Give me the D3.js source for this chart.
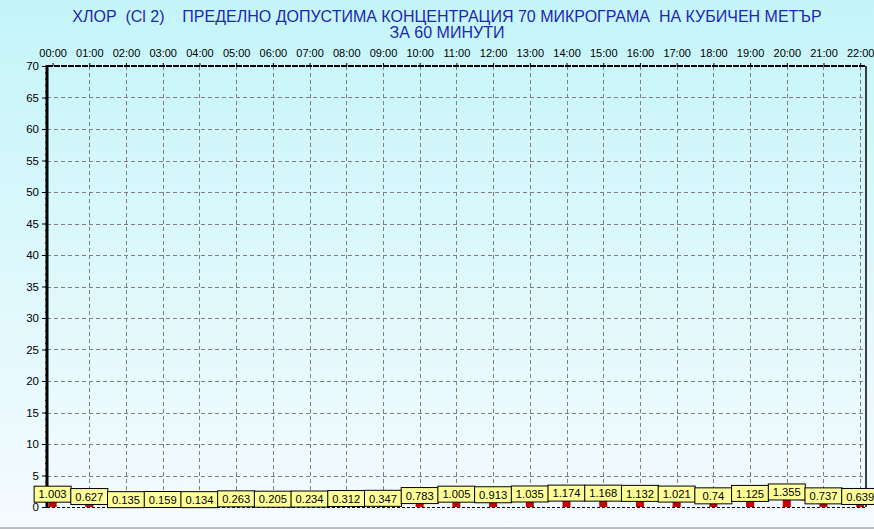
<!DOCTYPE html>
<html>
<head>
<meta charset="utf-8">
<script src="https://cdn.jsdelivr.net/npm/d3@7"></script>
<style>
  body { margin: 0; background: #fff; }
  svg text { font-family: Arial, "Liberation Sans", sans-serif; }
</style>
</head>
<body>
<div id="chart"></div>
<script>

// hourly values (micrograms per m3)
var hours = ["00:00","01:00","02:00","03:00","04:00","05:00","06:00","07:00","08:00","09:00","10:00","11:00",
             "12:00","13:00","14:00","15:00","16:00","17:00","18:00","19:00","20:00","21:00","22:00"];
var values = [1.003, 0.627, 0.135, 0.159, 0.134, 0.263, 0.205, 0.234, 0.312, 0.347, 0.783, 1.005,
              0.913, 1.035, 1.174, 1.168, 1.132, 1.021, 0.74, 1.125, 1.355, 0.737, 0.639];
var yTicks = [0, 5, 10, 15, 20, 25, 30, 35, 40, 45, 50, 55, 60, 65, 70];
var title1 = "ХЛОР  (Cl 2)    ПРЕДЕЛНО ДОПУСТИМА КОНЦЕНТРАЦИЯ 70 МИКРОГРАМА  НА КУБИЧЕН МЕТЪР";
var title2 = "ЗА 60 МИНУТИ";

var W = 874, H = 529;
// plot box (note: "top" is reserved on window, so use plot* names)
var plotL = 47, plotR = 866, plotT = 66, plotB = 507;

var svg = d3.select("#chart")
  .append("svg")
    .attr("width", W)
    .attr("height", H);

// background gradient
var grad = svg.append("defs").append("linearGradient")
    .attr("id", "bg")
    .attr("x1", 0).attr("y1", 0).attr("x2", 0).attr("y2", 1);
grad.append("stop").attr("offset", "0%").attr("stop-color", "#c4f5f9");
grad.append("stop").attr("offset", "100%").attr("stop-color", "#f6fbff");

svg.append("rect")
    .attr("width", W).attr("height", H)
    .attr("fill", "url(#bg)");

// frame line at bottom
svg.append("line")
    .attr("x1", 0).attr("x2", W)
    .attr("y1", 528).attr("y2", 528)
    .attr("stroke", "#808080");

// titles
svg.append("text")
    .attr("x", 447).attr("y", 22)
    .attr("text-anchor", "middle")
    .attr("font-size", 16)
    .attr("fill", "#1c28b0")
    .style("white-space", "pre")
    .text(title1);
svg.append("text")
    .attr("x", 447).attr("y", 38)
    .attr("text-anchor", "middle")
    .attr("font-size", 16)
    .attr("fill", "#1c28b0")
    .text(title2);

// scales
var x = d3.scalePoint()
  .domain(hours)
  .range([52.6, 860.2]);

var y = d3.scaleLinear()
  .domain([0, 70])
  .range([plotB, plotT]);

// horizontal grid
svg.append("g")
  .selectAll("line")
  .data(yTicks.filter(function(d) { return d > 0 && d < 70; }))
  .enter()
  .append("line")
    .attr("x1", plotL).attr("x2", plotR)
    .attr("y1", function(d) { return Math.round(y(d)) + 0.5; })
    .attr("y2", function(d) { return Math.round(y(d)) + 0.5; })
    .attr("stroke", "#808080")
    .attr("stroke-dasharray", "4,3");

// vertical grid
svg.append("g")
  .selectAll("line")
  .data(hours.slice(1))
  .enter()
  .append("line")
    .attr("x1", function(d) { return Math.round(x(d)) + 0.5; })
    .attr("x2", function(d) { return Math.round(x(d)) + 0.5; })
    .attr("y1", plotT).attr("y2", plotB)
    .attr("stroke", "#808080")
    .attr("stroke-dasharray", "4,3");

// borders
svg.append("line")
    .attr("x1", plotL).attr("x2", plotR)
    .attr("y1", plotT).attr("y2", plotT)
    .attr("stroke", "#000").attr("stroke-width", 2)
    .attr("stroke-dasharray", "6,1");
svg.append("line")
    .attr("x1", plotR).attr("x2", plotR)
    .attr("y1", plotT).attr("y2", plotB)
    .attr("stroke", "#000").attr("stroke-width", 1.5);
svg.append("line")
    .attr("x1", plotL).attr("x2", plotR)
    .attr("y1", plotB + 0.5).attr("y2", plotB + 0.5)
    .attr("stroke", "#000")
    .attr("stroke-dasharray", "3,2");

// top axis (hour labels)
var xAxis = svg.append("g")
  .attr("transform", "translate(0," + plotT + ")")
  .call(d3.axisTop(x).tickSize(3).tickPadding(6));
xAxis.select(".domain").remove();
xAxis.selectAll("text")
  .attr("font-size", 11)
  .attr("fill", "#000")
  .attr("font-family", "Arial, 'Liberation Sans', sans-serif");

// left axis, minor ticks
var yMinor = svg.append("g")
  .attr("transform", "translate(" + plotL + ",0)")
  .call(d3.axisLeft(y).ticks(70).tickSize(2).tickFormat(""));
yMinor.select(".domain").remove();

// left axis, major ticks
var yAxis = svg.append("g")
  .attr("transform", "translate(" + plotL + ",0)")
  .call(d3.axisLeft(y).tickValues(yTicks).tickSize(5).tickPadding(3));
yAxis.select(".domain").remove();
yAxis.selectAll("text")
  .attr("font-size", 11.5)
  .attr("fill", "#000")
  .attr("font-family", "Arial, 'Liberation Sans', sans-serif");

svg.append("line")
    .attr("x1", plotL).attr("x2", plotL)
    .attr("y1", plotT - 1).attr("y2", plotB + 1)
    .attr("stroke", "#000").attr("stroke-width", 3);

// thin line through the values
var line = d3.line()
  .x(function(d, i) { return x(hours[i]); })
  .y(function(d) { return y(d); });
svg.append("path")
    .datum(values)
    .attr("d", line)
    .attr("fill", "none")
    .attr("stroke", "#e05050")
    .attr("stroke-width", 1);

// bars
svg.append("g")
  .selectAll("rect")
  .data(values)
  .enter()
  .append("rect")
    .attr("x", function(d, i) { return x(hours[i]) - 4; })
    .attr("y", function(d) { return y(d); })
    .attr("width", 8)
    .attr("height", function(d) { return plotB - y(d); })
    .attr("fill", "#cc0000");

// value labels
var lab = svg.append("g")
  .selectAll("g")
  .data(values)
  .enter()
  .append("g")
    .attr("transform", function(d, i) {
      return "translate(" + x(hours[i]) + "," + (y(d) + 1.5) + ")";
    });
lab.append("rect")
    .attr("x", -18.5).attr("y", -16)
    .attr("width", 37).attr("height", 16)
    .attr("fill", "#ffff99")
    .attr("stroke", "#000")
    .attr("stroke-width", 1);
lab.append("text")
    .attr("x", 0).attr("y", -3.8)
    .attr("text-anchor", "middle")
    .attr("font-size", 11.2)
    .attr("fill", "#000")
    .text(function(d) { return String(d); });

</script>
</body>
</html>
